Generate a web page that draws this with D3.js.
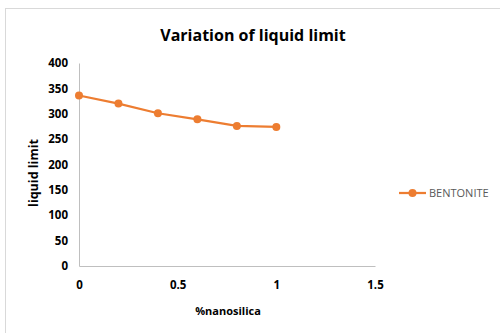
<!DOCTYPE html>
<html>
<head>
<meta charset="utf-8">
<script src="https://cdn.jsdelivr.net/npm/d3@7"></script>
<style>
  body { margin: 0; background: #fff; }
  text { font-family: "Open Sans", "Liberation Sans", sans-serif; }
</style>
</head>
<body>
<div id="chart-area"></div>
<script>
// data
var nanosilica = [0, 0.2, 0.4, 0.6, 0.8, 1];
var liquidLimit = [336, 320, 301, 289, 276, 274];
var xTicks = [0, 0.5, 1, 1.5];
var yTicks = [0, 50, 100, 150, 200, 250, 300, 350, 400];
var seriesName = "BENTONITE";

var orange = "#ed7d31";

var svg = d3.select("#chart-area")
  .append("svg")
  .attr("width", 500)
  .attr("height", 333);

// outer frame
svg.append("rect")
  .attr("x", 5.5)
  .attr("y", 8.5)
  .attr("width", 520)
  .attr("height", 340)
  .attr("fill", "none")
  .attr("stroke", "#d9d9d9");

var x = d3.scaleLinear().domain([0, 1.5]).range([79, 375]);
var y = d3.scaleLinear().domain([0, 400]).range([266, 63]);

// axes
var xAxis = svg.append("g")
  .attr("transform", "translate(0,266)")
  .call(d3.axisBottom(x).tickValues(xTicks).tickSize(0).tickPadding(15)
    .tickFormat(function(d) { return d; }));
xAxis.select(".domain").attr("stroke", "#bfbfbf");

var yAxis = svg.append("g")
  .attr("transform", "translate(79,0)")
  .call(d3.axisLeft(y).tickValues(yTicks).tickSize(0).tickPadding(11));
yAxis.select(".domain").attr("stroke", "#bfbfbf");

svg.selectAll(".tick text")
  .attr("font-family", "Open Sans, sans-serif")
  .attr("font-size", "11.5px")
  .attr("font-weight", "bold")
  .attr("fill", "#000");

// title
svg.append("text")
  .attr("x", 253)
  .attr("y", 41)
  .attr("text-anchor", "middle")
  .attr("font-size", "16px")
  .attr("font-weight", "bold")
  .attr("fill", "#000")
  .text("Variation of liquid limit");

// axis titles
svg.append("text")
  .attr("x", 228)
  .attr("y", 315)
  .attr("text-anchor", "middle")
  .attr("font-size", "11px")
  .attr("font-weight", "bold")
  .text("%nanosilica");

svg.append("text")
  .attr("transform", "translate(38,173) rotate(-90)")
  .attr("text-anchor", "middle")
  .attr("font-size", "12.5px")
  .attr("font-weight", "bold")
  .text("liquid limit");

// series
var line = d3.line()
  .x(function(d, i) { return x(nanosilica[i]); })
  .y(function(d) { return y(d); });

svg.append("path")
  .datum(liquidLimit)
  .attr("d", line)
  .attr("fill", "none")
  .attr("stroke", orange)
  .attr("stroke-width", 2.25);

svg.selectAll(".pt")
  .data(liquidLimit)
  .enter().append("circle")
  .attr("class", "pt")
  .attr("cx", function(d, i) { return x(nanosilica[i]); })
  .attr("cy", function(d) { return y(d); })
  .attr("r", 4)
  .attr("fill", orange);

// legend
var legend = svg.append("g").attr("transform", "translate(399,193)");
legend.append("line")
  .attr("x1", 0).attr("x2", 27)
  .attr("stroke", orange)
  .attr("stroke-width", 2.25);
legend.append("circle")
  .attr("cx", 13.5)
  .attr("r", 4)
  .attr("fill", orange);
legend.append("text")
  .attr("x", 30)
  .attr("y", 4)
  .attr("font-size", "11px")
  .attr("fill", "#595959")
  .text(seriesName);
</script>
</body>
</html>
